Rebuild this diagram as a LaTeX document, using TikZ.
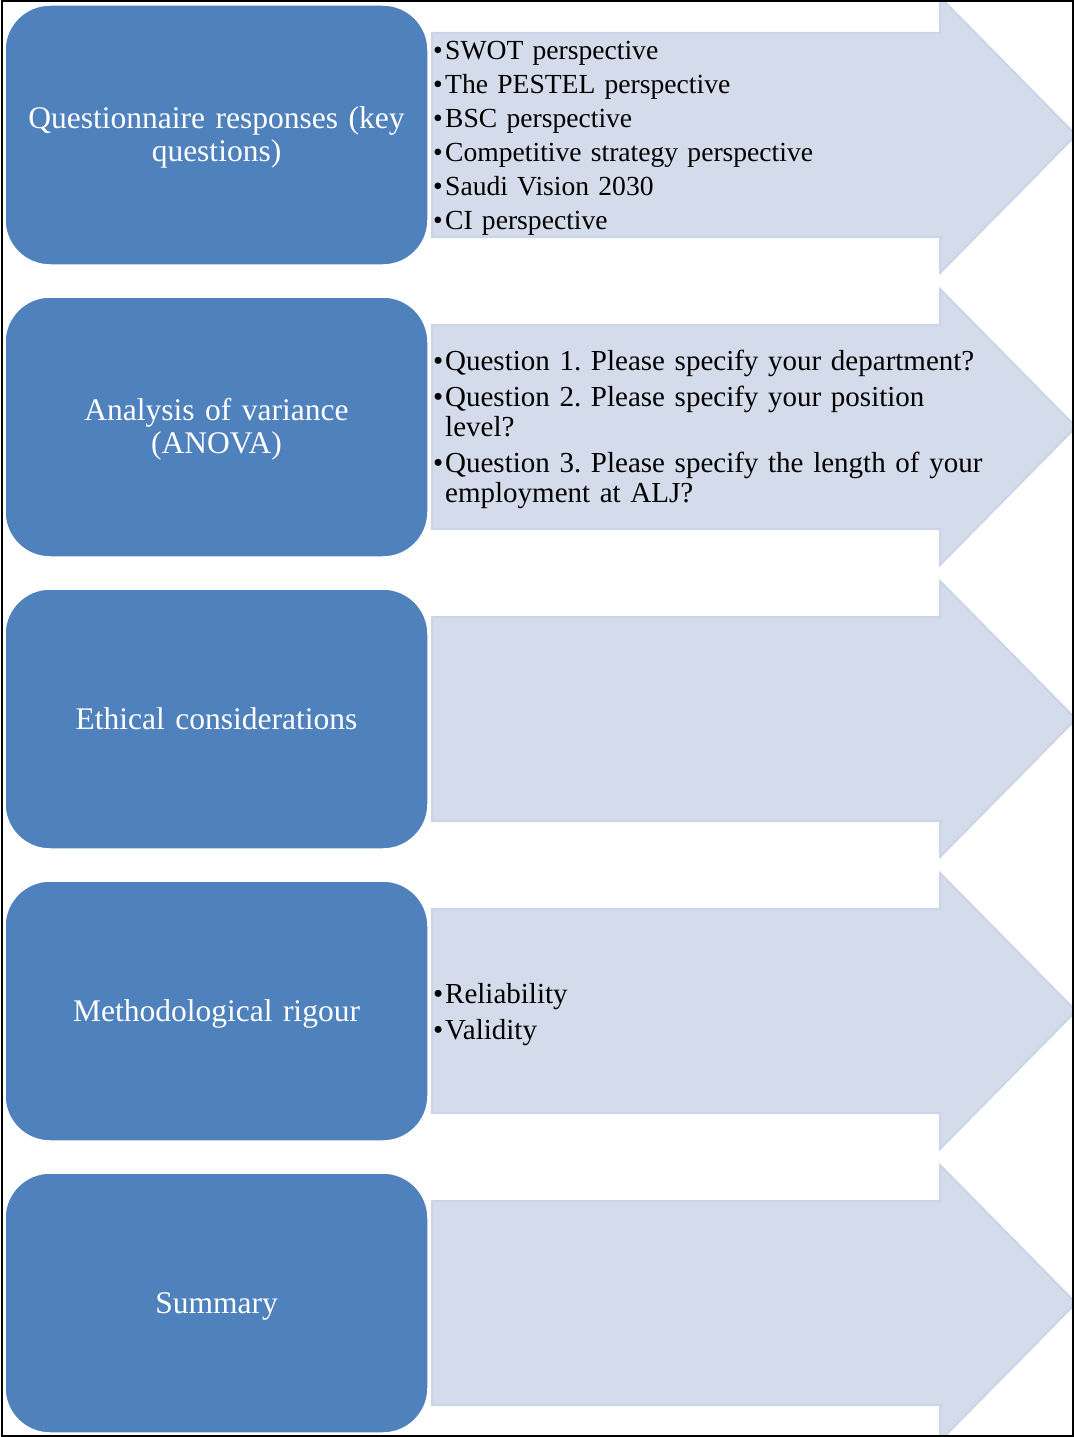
\documentclass[tikz,border=0pt]{standalone}
\usepackage{fontspec}
\setmainfont{Liberation Serif}

\definecolor{stageblue}{HTML}{4F81BD}
\definecolor{bandfill}{HTML}{D4DBEA}
\definecolor{bandedge}{HTML}{CCD5E7}

% bullet paragraph with hanging indent
\newcommand\bpoint[1]{\par\hangindent=12pt\hangafter=1\noindent\makebox[12pt][l]{\textbullet}#1}

\tikzset{
  stage/.style={fill=stageblue, draw=white, line width=1.5pt, rounded corners=45pt,
    minimum width=423pt, minimum height=260pt, inner sep=0pt},
  stagetext/.style={text width=400pt, align=center, inner sep=0pt, text=white,
    font=\fontsize{31.5}{33}\selectfont},
  oneline/.style={text depth=0pt},
  detail/.style={anchor=west, text width=600pt, align=left, inner sep=0pt,
    font=\fontsize{29}{30}\selectfont\frenchspacing},
  band/.style={fill=bandfill, draw=bandedge, line width=2pt},
}

\begin{document}
\begin{tikzpicture}[x=1pt,y=-1pt]
\useasboundingbox (0,0) rectangle (1074,1437);

% chevron bands behind each stage, clipped by the frame
\begin{scope}
  \clip (2,2) rectangle (1072,1435);
  \foreach \cy in {135,427,719,1011,1303}{
    \path[band] (432,\cy-102) -- (940,\cy-102) -- (940,\cy-138) -- (1076,\cy)
      -- (940,\cy+138) -- (940,\cy+102) -- (432,\cy+102) -- cycle;
  }
\end{scope}

% stage boxes
\node[stage] (s1) at (216.5,135)  {};
\node[stage] (s2) at (216.5,427)  {};
\node[stage] (s3) at (216.5,719)  {};
\node[stage] (s4) at (216.5,1011) {};
\node[stage] (s5) at (216.5,1303) {};

% stage titles
\node[stagetext, yshift=-2pt] (t1) at (s1) {Questionnaire responses (key\\questions)};
\node[stagetext, yshift=-2pt] (t2) at (s2) {Analysis of variance\\(ANOVA)};
\node[stagetext, oneline] (t3) at (s3) {Ethical considerations};
\node[stagetext, oneline] (t4) at (s4) {Methodological rigour};
\node[stagetext, oneline] (t5) at (s5) {Summary};

% details carried by the bands
\node[detail, font=\fontsize{27.6}{29}\selectfont\frenchspacing] (d1) at (433,130.5) {\setlength{\parskip}{5pt}%
  \bpoint{SWOT perspective}
  \bpoint{The PESTEL perspective}
  \bpoint{BSC perspective}
  \bpoint{Competitive strategy perspective}
  \bpoint{Saudi Vision 2030}
  \bpoint{CI perspective}\par};
\node[detail] (d2) at (433,422) {\setlength{\parskip}{6pt}%
  \bpoint{Question 1. Please specify your department?}
  \bpoint{Question 2. Please specify your position\break level?}
  \bpoint{Question 3. Please specify the length of your\break employment at ALJ?}\par};
\node[detail] (d4) at (433,1007) {\setlength{\parskip}{6pt}%
  \bpoint{Reliability}
  \bpoint{Validity}\par};

% outer frame
\draw[line width=2pt] (1.5,1.5) rectangle (1072.5,1435.5);
\end{tikzpicture}
\end{document}
